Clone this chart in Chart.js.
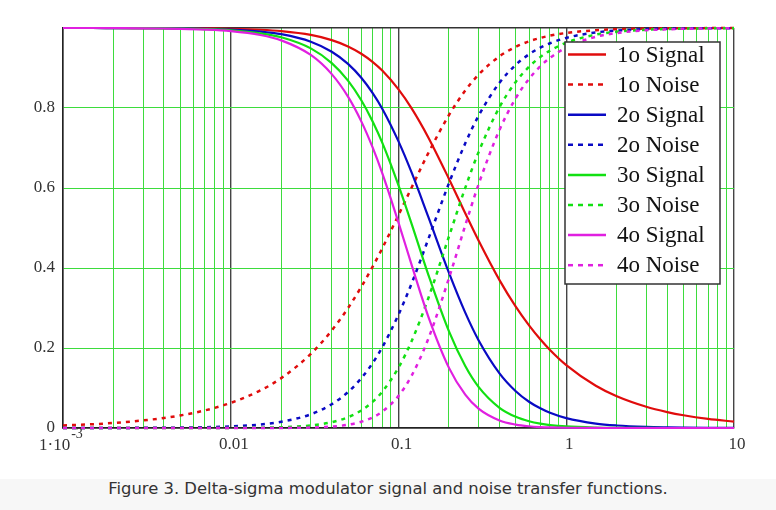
<!DOCTYPE html>
<html>
<head>
<meta charset="utf-8">
<script src="https://cdn.jsdelivr.net/npm/chart.js@4.4.1/dist/chart.umd.min.js"></script>
<style>
  body { margin: 0; background: #fff; }
  #wrap { width: 776px; height: 479px; }
  .caption {
    width: 776px; height: 31px; line-height: 23px;
    background: #f7f7f7; color: #333;
    font: 16.4px "DejaVu Sans", Verdana, sans-serif;
    text-align: center;
  }
</style>
</head>
<body>
<div id="wrap"><canvas id="grafik" width="776" height="479"></canvas></div>
<div class="caption">Figure 3. Delta-sigma modulator signal and noise transfer functions.</div>
<script>
// frekuensi (sumbu x, log)
const xValues = [0.001, 0.0015, 0.002, 0.003, 0.004, 0.005, 0.007, 0.01, 0.015, 0.02, 0.03, 0.04, 0.05, 0.06, 0.07, 0.08,
  0.1, 0.12, 0.15, 0.2, 0.25, 0.3, 0.4, 0.5, 0.6, 0.7, 0.8, 1, 1.5, 2, 3, 4, 5, 7, 10];

const signal1 = [1, 1, 1, 0.9998, 0.9997, 0.9995, 0.999, 0.998, 0.9956, 0.9922, 0.9827, 0.9698, 0.954, 0.9357, 0.9154, 0.8935,
  0.8465, 0.7985, 0.7277, 0.6227, 0.537, 0.4687, 0.3697, 0.3033, 0.2564, 0.2217, 0.1951, 0.1572, 0.1055, 0.0793, 0.053, 0.0398, 0.0318, 0.0227, 0.0159];
const noise1 = [0.0063, 0.0094, 0.0126, 0.0189, 0.0251, 0.0314, 0.0439, 0.0627, 0.0938, 0.1247, 0.1852, 0.2437, 0.2997, 0.3528, 0.4026, 0.4491,
  0.5324, 0.602, 0.6859, 0.7825, 0.8436, 0.8834, 0.9292, 0.9529, 0.9666, 0.9751, 0.9808, 0.9876, 0.9944, 0.9969, 0.9986, 0.9992, 0.9995, 0.9997, 0.9999];
const signal2 = [1, 1, 0.9998, 0.9996, 0.9994, 0.999, 0.9981, 0.9961, 0.9912, 0.9845, 0.9657, 0.9406, 0.9102, 0.8756, 0.8379, 0.7983,
  0.7166, 0.6376, 0.5296, 0.3877, 0.2884, 0.2196, 0.1367, 0.092, 0.0657, 0.0492, 0.0381, 0.0247, 0.0111, 0.0063, 0.0028, 0.0016, 0.001, 0.0005, 0.0003];
const noise2 = [0, 0.0001, 0.0002, 0.0004, 0.0006, 0.001, 0.0019, 0.0039, 0.0088, 0.0156, 0.0343, 0.0594, 0.0898, 0.1244, 0.1621, 0.2017,
  0.2834, 0.3624, 0.4704, 0.6123, 0.7116, 0.7804, 0.8633, 0.908, 0.9343, 0.9509, 0.9619, 0.9753, 0.9889, 0.9937, 0.9972, 0.9984, 0.999, 0.9995, 0.9997];
const signal3 = [1, 1, 0.9998, 0.9995, 0.9991, 0.9985, 0.9971, 0.9941, 0.9868, 0.9768, 0.949, 0.9122, 0.8683, 0.8193, 0.767, 0.7133,
  0.6066, 0.5091, 0.3854, 0.2414, 0.1549, 0.1029, 0.0505, 0.0279, 0.0169, 0.0109, 0.0074, 0.0039, 0.0012, 0.0005, 0.0002, 0, 0, 0, 0];
const noise3 = [0, 0, 0, 0, 0, 0, 0.0001, 0.0003, 0.0008, 0.0019, 0.0064, 0.0145, 0.0269, 0.0439, 0.0653, 0.0906,
  0.1509, 0.2182, 0.3226, 0.4791, 0.6003, 0.6894, 0.8022, 0.8652, 0.903, 0.9272, 0.9435, 0.9632, 0.9834, 0.9906, 0.9958, 0.9976, 0.9985, 0.9992, 0.9996];
const signal4 = [1, 1, 0.9997, 0.9993, 0.9987, 0.998, 0.9961, 0.9922, 0.9825, 0.9691, 0.9326, 0.8847, 0.8284, 0.7666, 0.7021, 0.6373,
  0.5135, 0.4065, 0.2805, 0.1503, 0.0832, 0.0482, 0.0187, 0.0085, 0.0043, 0.0024, 0.0015, 0.0006, 0.0001, 0, 0, 0, 0, 0, 0];
const noise4 = [0, 0, 0, 0, 0, 0, 0, 0, 0.0001, 0.0002, 0.0012, 0.0035, 0.0081, 0.0155, 0.0263, 0.0407,
  0.0803, 0.1314, 0.2213, 0.3749, 0.5064, 0.609, 0.7453, 0.8245, 0.8728, 0.9041, 0.9253, 0.9512, 0.9779, 0.9874, 0.9944, 0.9968, 0.998, 0.999, 0.9995];

const seriesLabels = ["1o Signal", "1o Noise", "2o Signal", "2o Noise", "3o Signal", "3o Noise", "4o Signal", "4o Noise"];
const seriesData = [signal1, noise1, signal2, noise2, signal3, noise3, signal4, noise4];
const warnaOrde = ["#e00c0c", "#0a0ac4", "#12e012", "#e020e0"];

const decades = [0.001, 0.01, 0.1, 1, 10];
const xTickLabels = ["1·10-3", "0.01", "0.1", "1", "10"];

const fontTick = { family: '"Liberation Serif", "Times New Roman", serif', size: 17 };
const gridGreen = "#3ddc3d";

function isDecade(v) {
  return decades.some(d => Math.abs(v - d) / d < 1e-6);
}

// kotak legenda dan label 1·10^-3 digambar manual
const extras = {
  id: "extras",
  afterDraw(chart) {
    const { ctx, chartArea } = chart;
    const left = chartArea.right - 169, top = chartArea.top + 14;
    ctx.save();
    ctx.fillStyle = "#fff";
    ctx.fillRect(left, top, 155, 242);
    ctx.strokeStyle = "#333";
    ctx.lineWidth = 1.5;
    ctx.strokeRect(left, top, 155, 242);
    ctx.font = '23px "Liberation Serif", serif';
    ctx.textBaseline = "middle";
    seriesLabels.forEach((lab, i) => {
      const y = top + 12.5 + i * 30.1;
      ctx.strokeStyle = warnaOrde[i >> 1];
      ctx.lineWidth = 2.5;
      ctx.setLineDash(i % 2 ? [5, 5] : []);
      ctx.beginPath();
      ctx.moveTo(left + 3, y);
      ctx.lineTo(left + 41, y);
      ctx.stroke();
      ctx.fillStyle = "#111";
      ctx.fillText(lab, left + 52, y + 1);
    });

    // label pertama dengan pangkat
    const px = chart.scales.x.getPixelForValue(decades[0]);
    const base = xTickLabels[0].slice(0, 4), sup = xTickLabels[0].slice(4);
    ctx.fillStyle = "#333";
    ctx.textBaseline = "alphabetic";
    ctx.font = '17px "Liberation Serif", serif';
    const x0 = px - 24;
    ctx.fillText(base, x0, 450);
    const w = ctx.measureText(base).width;
    ctx.font = '14px "Liberation Serif", serif';
    ctx.fillText(sup, x0 + w + 1, 438);
    ctx.restore();
  }
};

const datasets = seriesData.map((arr, i) => ({
  label: seriesLabels[i],
  data: xValues.map((x, k) => ({ x: x, y: arr[k] })),
  borderColor: warnaOrde[i >> 1],
  borderWidth: i % 2 ? 2.5 : 2.2,
  borderDash: i % 2 ? [4, 5] : [],
  pointRadius: 0,
  cubicInterpolationMode: "monotone",
  fill: false,
  clip: 4,
  order: 7 - i
}));

new Chart(document.getElementById("grafik").getContext("2d"), {
  type: "line",
  data: { datasets: datasets },
  options: {
    responsive: false,
    animation: false,
    devicePixelRatio: 1,
    layout: { padding: { top: 28, right: 42, left: 0, bottom: 0 } },
    plugins: { legend: { display: false }, tooltip: { enabled: false } },
    scales: {
      x: {
        type: "logarithmic",
        min: 0.001,
        max: 10,
        afterBuildTicks: scale => {
          const t = [];
          decades.forEach((d, i) => {
            t.push({ value: d });
            if (i < decades.length - 1) {
              for (let m = 2; m <= 9; m++) t.push({ value: d * m });
            }
          });
          scale.ticks = t;
        },
        afterFit: s => { s.height = 51; },
        ticks: {
          autoSkip: false,
          maxRotation: 0,
          padding: 6,
          labelOffset: 3,
          font: fontTick,
          color: "#333",
          callback: v => {
            const i = decades.findIndex(d => Math.abs(v - d) / d < 1e-6);
            return i > 0 ? xTickLabels[i] : "";
          }
        },
        grid: {
          drawTicks: false,
          color: c => isDecade(c.tick.value) ? "#444" : gridGreen,
          lineWidth: c => isDecade(c.tick.value) ? 1.4 : 1
        },
        border: { color: "#222", width: 1.5 }
      },
      y: {
        min: 0,
        max: 1,
        afterFit: s => { s.width = 63; },
        ticks: {
          stepSize: 0.2,
          padding: 8,
          font: fontTick,
          color: "#333",
          callback: v => v > 0.99 ? "" : String(Math.round(v * 10) / 10)
        },
        grid: {
          drawTicks: false,
          color: c => (c.tick.value < 0.01 || c.tick.value > 0.99) ? "#333" : gridGreen,
          lineWidth: c => (c.tick.value < 0.01 || c.tick.value > 0.99) ? 1.4 : 1
        },
        border: { color: "#222", width: 1.5 }
      }
    }
  },
  plugins: [extras]
});
</script>
</body>
</html>
